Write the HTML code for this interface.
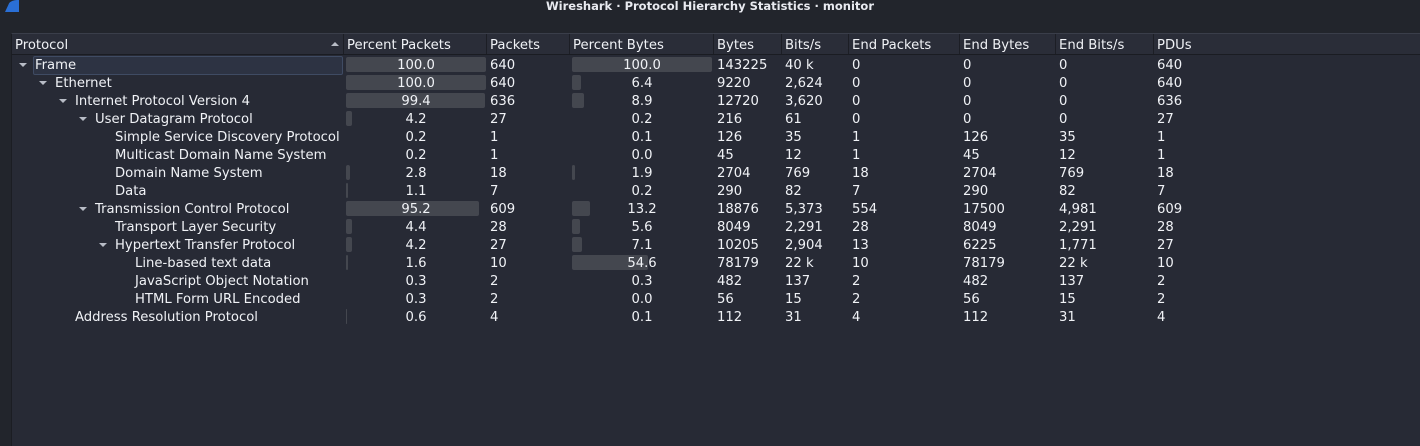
<!DOCTYPE html>
<html><head><meta charset="utf-8">
<style>
body{margin:0;width:1420px;height:445px;background:#22252c;overflow:hidden;font-family:"DejaVu Sans","Liberation Sans",sans-serif;color:#f0f2f6;font-size:13.2px;position:relative}
#title{position:absolute;top:0;left:0;width:1420px;height:18px;text-align:center;font-size:11.5px;line-height:12px;color:#e8eaf0;font-weight:bold}
#logo{position:absolute;left:5px;top:0;width:14px;height:12px;background:#2a6fd6;border-radius:12px 0 0 0;clip-path:polygon(40% 0,100% 0,100% 100%,0 100%)}
#table{position:absolute;left:11px;top:33px;width:1409px;height:412px;background:#272a35;border-left:1px solid #1b1d23;border-top:1px solid #3a3e4a}
#hdr{position:absolute;left:0;top:0;width:1409px;height:20px;background:#2a2d38;border-bottom:1px solid #1a1c22}
.h{position:absolute;top:0;height:20px;line-height:24px;padding-left:3px;border-right:1px solid #1c1e25;box-sizing:border-box}
.c{position:absolute;white-space:nowrap;height:18px;line-height:20px}
.bar{position:absolute;height:15px;background:#44474f;border-radius:2px}
.arr{position:absolute;width:0;height:0;border-left:4px solid transparent;border-right:4px solid transparent;border-top:4px solid #b8bcc6}
</style></head><body>
<div id="title">Wireshark · Protocol Hierarchy Statistics · monitor</div>
<div id="logo"></div>
<div id="table">
<div id="hdr"></div>
<div id="sel" style="position:absolute;left:21px;top:22px;width:308px;height:17px;background:#2d3343;border:1px solid #3f4b63;border-radius:2px"></div>
</div>
<script>
const headers=["Protocol","Percent Packets","Packets","Percent Bytes","Bytes","Bits/s","End Packets","End Bytes","End Bits/s","PDUs"];
const protocols=["Frame","Ethernet","Internet Protocol Version 4","User Datagram Protocol","Simple Service Discovery Protocol","Multicast Domain Name System","Domain Name System","Data","Transmission Control Protocol","Transport Layer Security","Hypertext Transfer Protocol","Line-based text data","JavaScript Object Notation","HTML Form URL Encoded","Address Resolution Protocol"];
const levels=[0,1,2,3,4,4,4,4,3,4,4,5,5,5,2];
const expanded=[1,1,1,1,0,0,0,0,1,0,1,0,0,0,0];
const pctPackets=[100.0,100.0,99.4,4.2,0.2,0.2,2.8,1.1,95.2,4.4,4.2,1.6,0.3,0.3,0.6];
const packets=[640,640,636,27,1,1,18,7,609,28,27,10,2,2,4];
const pctBytes=[100.0,6.4,8.9,0.2,0.1,0.0,1.9,0.2,13.2,5.6,7.1,54.6,0.3,0.0,0.1];
const bytes=[143225,9220,12720,216,126,45,2704,290,18876,8049,10205,78179,482,56,112];
const bitsps=["40 k","2,624","3,620","61","35","12","769","82","5,373","2,291","2,904","22 k","137","15","31"];
const endPackets=[0,0,0,0,1,1,18,7,554,28,13,10,2,2,4];
const endBytes=[0,0,0,0,126,45,2704,290,17500,8049,6225,78179,482,56,112];
const endBits=["0","0","0","0","35","12","769","82","4,981","2,291","1,771","22 k","137","15","31"];
const pdus=[640,640,636,27,1,1,18,7,609,28,27,10,2,2,4];

const colX=[0,332,475,558,702,770,837,948,1044,1142,1409];
const T=document.getElementById('table'),H=document.getElementById('hdr');
headers.forEach((h,i)=>{const d=document.createElement('div');d.className='h';


d.style.left=colX[i]+'px';d.style.width=(colX[i+1]-colX[i])+'px';d.textContent=h;H.appendChild(d);});
const sa=document.createElement('div');sa.className='arr';sa.style.cssText='left:319px;top:8px;border-top:none;border-bottom:4px solid #b8bcc6';


H.appendChild(sa);
const ROW0=22,RH=18,BARW=140;
function cell(txt,x,y,name,w,center){const d=document.createElement('div');d.className='c';


d.style.left=x+'px';d.style.top=y+'px';if(w){d.style.width=w+'px';}if(center)d.style.textAlign='center';d.textContent=txt;T.appendChild(d);return d;}
function bar(p,x,y,name){const w=p/100*BARW;if(w<0.5)return;const b=document.createElement('div');b.className='bar';


b.style.left=x+'px';b.style.top=(y+1)+'px';b.style.width=Math.max(1,w)+'px';T.appendChild(b);}
protocols.forEach((p,i)=>{const y=ROW0+i*RH;
if(expanded[i]){const a=document.createElement('div');a.className='arr';


a.style.left=(7+levels[i]*20)+'px';a.style.top=(y+7)+'px';T.appendChild(a);}
cell(p,23+levels[i]*20,y,'protocol-name');
bar(pctPackets[i],334,y,'percent-packets-bar');
cell(pctPackets[i].toFixed(1),334,y,'percent-packets',BARW,true);
cell(String(packets[i]),478,y,'packets');
bar(pctBytes[i],560,y,'percent-bytes-bar');
cell(pctBytes[i].toFixed(1),560,y,'percent-bytes',BARW,true);
cell(String(bytes[i]),705,y,'bytes');
cell(bitsps[i],773,y,'bits-per-second');
cell(String(endPackets[i]),840,y,'end-packets');
cell(String(endBytes[i]),951,y,'end-bytes');
cell(endBits[i],1047,y,'end-bits-per-second');
cell(String(pdus[i]),1145,y,'pdus');
});
</script>
</body></html>
